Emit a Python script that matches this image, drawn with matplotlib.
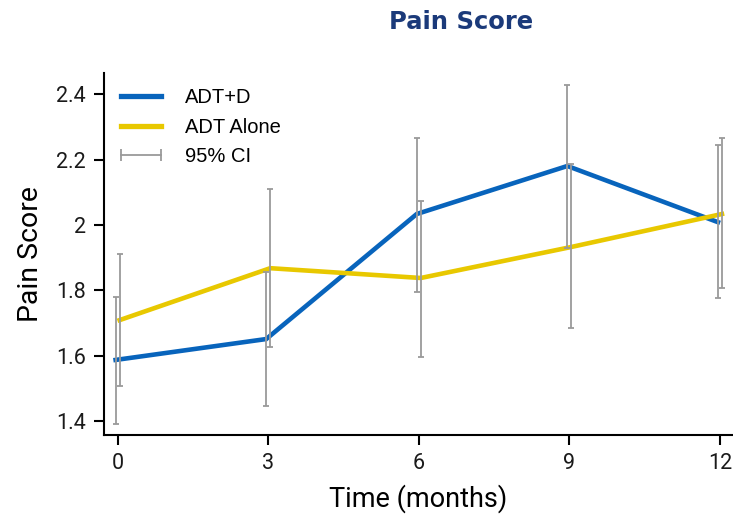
import matplotlib
matplotlib.use("Agg")
import matplotlib.pyplot as plt
from matplotlib.lines import Line2D
import numpy as np

months = [0, 3, 6, 9, 12]
adt_d = [1.587, 1.651, 2.034, 2.181, 2.009]
adt_d_lo = [1.390, 1.446, 1.795, 1.930, 1.776]
adt_d_hi = [1.780, 1.856, 2.266, 2.429, 2.245]
adt_alone = [1.709, 1.868, 1.838, 1.933, 2.034]
adt_alone_lo = [1.507, 1.626, 1.596, 1.685, 1.807]
adt_alone_hi = [1.911, 2.110, 2.074, 2.187, 2.266]

BLUE = "#0864bc"
YELLOW = "#e8c800"
GREY = "#9a9a9a"
AXFONT = ["Roboto", "DejaVu Sans"]

fig = plt.figure(figsize=(7.33, 5.21), dpi=100)
ax = fig.add_axes([0.142, 0.165, 0.858, 0.695])

x = np.array(months, dtype=float)
shift = 0.04  # small dodge so the two groups' bars don't overlap

ax.plot(x - shift, adt_d, color=BLUE, lw=3.3, solid_joinstyle="miter", zorder=2)
ax.plot(x + shift, adt_alone, color=YELLOW, lw=3.3, solid_joinstyle="miter", zorder=2)

for off, mid, lo, hi in [(-shift, adt_d, adt_d_lo, adt_d_hi),
                         (shift, adt_alone, adt_alone_lo, adt_alone_hi)]:
    mid = np.array(mid)
    err = [mid - np.array(lo), np.array(hi) - mid]
    ax.errorbar(x + off, mid, yerr=err, fmt="none", ecolor=GREY,
                elinewidth=1.3, capsize=2.5, capthick=1.3, zorder=3)

ax.set_xlim(-0.27, 12.26)
ax.set_ylim(1.357, 2.466)
ax.set_xticks(months)
ax.set_yticks([1.4, 1.6, 1.8, 2.0, 2.2, 2.4])
ax.set_yticklabels(["1.4", "1.6", "1.8", "2", "2.2", "2.4"])

for s in ["top", "right"]:
    ax.spines[s].set_visible(False)
for s in ["left", "bottom"]:
    ax.spines[s].set_linewidth(1.5)
ax.tick_params(direction="out", length=7, width=1.5, pad=6, labelsize=15.5)
for lab in ax.get_xticklabels() + ax.get_yticklabels():
    lab.set_family(AXFONT)
    lab.set_color("#1a1a1a")

ax.set_xlabel("Time (months)", fontsize=19.5, family=AXFONT, labelpad=7)
ax.set_ylabel("Pain Score", fontsize=20.5, family=AXFONT, labelpad=9)

handles = [
    Line2D([], [], color=BLUE, lw=3.8),
    Line2D([], [], color=YELLOW, lw=3.8),
    Line2D([], [], color=GREY, lw=1.3, marker="|", markersize=8, markeredgewidth=1.3),
]
ax.legend(handles, ["ADT+D", "ADT Alone", "95% CI"], loc="upper left",
          bbox_to_anchor=(-0.012, 1.008), frameon=False, numpoints=2,
          handlelength=2.6, handletextpad=0.9, labelspacing=0.52,
          prop={"family": ["Liberation Sans", "DejaVu Sans"], "size": 14.5})

fig.text(0.629, 0.958, "Pain Score", ha="center", va="center",
         fontsize=17.5, fontweight="bold", color="#1b3a7a")

fig.savefig("out.png", dpi=100)
